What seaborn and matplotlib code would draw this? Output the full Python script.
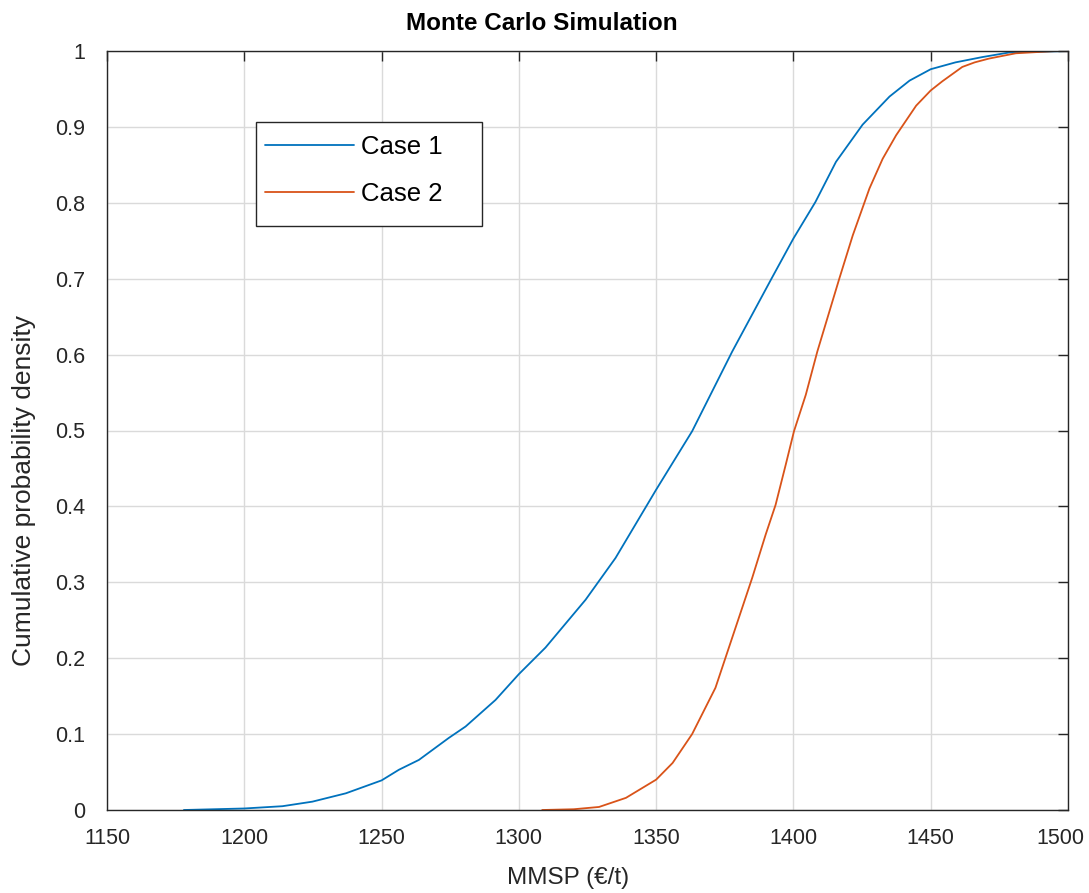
import matplotlib
matplotlib.use("Agg")
import matplotlib.pyplot as plt
from matplotlib.patches import Rectangle
from matplotlib.transforms import ScaledTranslation
import numpy as np
import pandas as pd
import seaborn as sns

# Empirical CDF of MMSP from Monte Carlo runs, sampled at selected prices
case1_x = [1178, 1200, 1213.9, 1224.8, 1237, 1250, 1256.3, 1263.6, 1274.5, 1280.6,
           1291.5, 1300, 1309.7, 1324.3, 1335.2, 1350, 1363.1, 1377.7, 1392,
           1400, 1408, 1415.5, 1425.2, 1435, 1442.3, 1450, 1459, 1468.8, 1478.5, 1500]
case1_y = [0.0, 0.002, 0.005, 0.011, 0.022, 0.039, 0.053, 0.066, 0.095, 0.11,
           0.145, 0.179, 0.214, 0.277, 0.332, 0.422, 0.499, 0.604, 0.70,
           0.753, 0.801, 0.854, 0.903, 0.94, 0.961, 0.976, 0.985, 0.992, 0.998, 1.0]

case2_x = [1308.5, 1320, 1329.2, 1339, 1350, 1356, 1363.1, 1371.6, 1378.9, 1385,
           1389.9, 1393.5, 1397.2, 1400.2, 1404.5, 1408.7, 1416.7, 1421.6, 1427.7,
           1432.5, 1437.4, 1444.7, 1450, 1454.2, 1461.5, 1466, 1471.2, 1481, 1495.6, 1500]
case2_y = [0.0, 0.001, 0.004, 0.016, 0.040, 0.062, 0.10, 0.161, 0.24, 0.306,
           0.363, 0.402, 0.455, 0.499, 0.547, 0.604, 0.70, 0.757, 0.819,
           0.858, 0.889, 0.928, 0.948, 0.96, 0.979, 0.985, 0.990, 0.997, 1.0, 1.0]

series_names = ["Case 1", "Case 2"]
series_colors = ["#0072BD", "#D95319"]

x_ticks = [1150, 1200, 1250, 1300, 1350, 1400, 1450, 1500]
y_ticks = [0, 0.1, 0.2, 0.3, 0.4, 0.5, 0.6, 0.7, 0.8, 0.9, 1]
y_tick_labels = ["0", "0.1", "0.2", "0.3", "0.4", "0.5", "0.6", "0.7", "0.8", "0.9", "1"]

df = pd.concat([
    pd.DataFrame({"MMSP": case1_x, "CDF": case1_y, "Series": series_names[0]}),
    pd.DataFrame({"MMSP": case2_x, "CDF": case2_y, "Series": series_names[1]}),
], ignore_index=True)

sns.set_theme(style="white")
plt.rcParams["font.family"] = ["Liberation Sans", "DejaVu Sans"]

W, H = 1089, 893
AX_L, AX_R, AX_T, AX_B = 107, 1068, 51, 810
fig = plt.figure(figsize=(W / 100, H / 100), dpi=100)
ax = fig.add_axes([AX_L / W, 1 - AX_B / H, (AX_R - AX_L) / W, (AX_B - AX_T) / H])

sns.lineplot(data=df, x="MMSP", y="CDF", hue="Series",
             palette=dict(zip(series_names, series_colors)),
             linewidth=1.3, ax=ax, sort=False, estimator=None, legend=False)

ax.set_xlim(1150, 1500)
ax.set_ylim(0, 1)
ax.set_xticks(x_ticks)
ax.set_yticks(y_ticks)
ax.set_yticklabels(y_tick_labels)
ax.grid(True, color="#dadada", linewidth=1.0)
ax.set_axisbelow(True)

for side in ["left", "right", "top", "bottom"]:
    ax.spines[side].set_visible(True)
    ax.spines[side].set_color("#262626")
    ax.spines[side].set_linewidth(1.0)

ax.tick_params(axis="both", direction="in", length=7, width=1.0, color="#262626",
               top=True, right=True, labelsize=15.5, labelcolor="#262626")
ax.tick_params(axis="x", pad=13)
ax.tick_params(axis="y", pad=16)

# keep the last x tick label inside the figure
fig.canvas.draw()
last = ax.get_xticklabels()[-1]
last.set_transform(last.get_transform() + ScaledTranslation(-8 / 100, 0, fig.dpi_scale_trans))

ax.set_xlabel("MMSP (€/t)", fontsize=17.5, color="#262626")
ax.xaxis.set_label_coords((568 - AX_L) / (AX_R - AX_L), -(867 - AX_B) / (AX_B - AX_T))
ax.set_ylabel("Cumulative probability density", fontsize=19, color="#262626")
ax.yaxis.set_label_coords((36 - AX_L) / (AX_R - AX_L), (AX_B - 490) / (AX_B - AX_T))

fig.text(541.5 / W, 1 - 23 / H, "Monte Carlo Simulation", fontsize=17.5,
         fontweight="bold", ha="center", va="center", color="black")

# Legend box with white fill drawn over the grid
box = Rectangle((256 / W, 1 - 226 / H), (482 - 256) / W, (226 - 122) / H,
                transform=fig.transFigure, facecolor="white", edgecolor="#262626",
                linewidth=1.0, zorder=4)
ax.add_patch(box)
box.set_clip_on(False)

handles = [plt.Line2D([], [], color=c, linewidth=1.3) for c in series_colors]
leg = ax.legend(handles, series_names, loc="upper left",
                bbox_to_anchor=(265 / W, 1 - 135 / H), bbox_transform=fig.transFigure,
                fontsize=18.5, handlelength=3.45, handletextpad=0.28,
                frameon=False, borderpad=0, borderaxespad=0, labelspacing=0.9)
leg.set_zorder(5)
for t in leg.get_texts():
    t.set_color("black")

fig.savefig("out.png", dpi=100)
